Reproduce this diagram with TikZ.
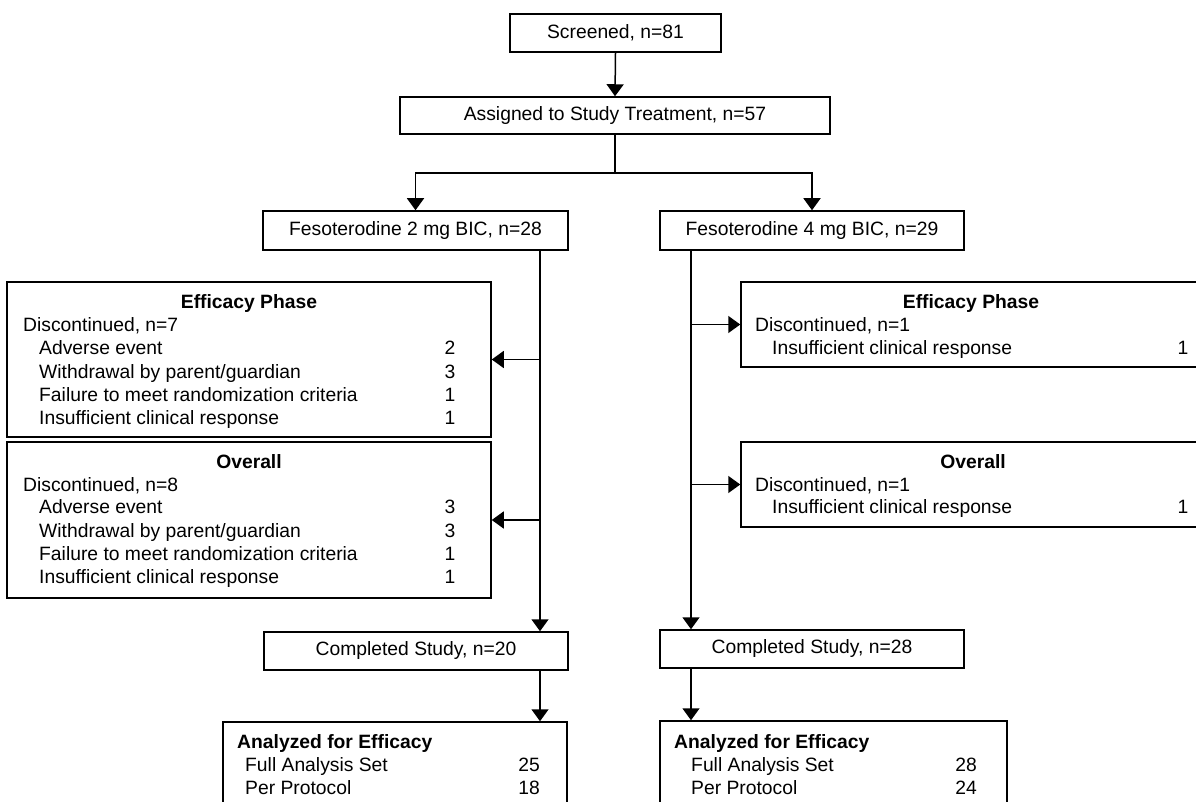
\documentclass[tikz,border=0pt]{standalone}
\usepackage{fontspec}
\setmainfont{Liberation Sans}
\usetikzlibrary{arrows.meta}
\tikzset{
  box/.style={draw, line width=1.5pt, inner sep=0pt, align=center},
  txt/.style={inner sep=0pt, text height=13.9pt, text depth=0pt, anchor=west},
  num/.style={inner sep=0pt, text height=13.9pt, text depth=0pt, anchor=center},
  hdr/.style={inner sep=0pt, text height=13.9pt, text depth=0pt, anchor=center, font=\fontsize{19.3}{23.3}\selectfont\bfseries},
  conn/.style={line width=1.5pt},
  arr/.style={line width=1.5pt, -{Triangle[length=12pt,width=17pt]}}
}
\begin{document}
\begin{tikzpicture}[x=1pt,y=-1pt, font=\fontsize{19.3}{23.3}\selectfont]
\useasboundingbox (0,0) rectangle (1196,802);
\fill[white] (0,0) rectangle (1196,802);
\clip (0,0) rectangle (1196,802);

% top boxes
\node[box, minimum width=211pt, minimum height=38pt] (scr) at (615.5,33) {Screened, n=81};
\node[box, minimum width=430pt, minimum height=37pt] (assign) at (615,115.5) {Assigned to Study Treatment, n=57};
\node[box, minimum width=305pt, minimum height=39pt] (feso2) at (415.5,230.5) {Fesoterodine 2 mg BIC, n=28};
\node[box, minimum width=304pt, minimum height=39pt] (feso4) at (812,230.5) {Fesoterodine 4 mg BIC, n=29};

% discontinuation boxes
\node[box, minimum width=484pt, minimum height=155pt] (effL) at (249,359.5) {};
\node[box, minimum width=484pt, minimum height=156pt] (ovL) at (249,520) {};
\node[box, minimum width=460pt, minimum height=85pt] (effR) at (971,324.5) {};
\node[box, minimum width=460pt, minimum height=85pt] (ovR) at (971,484.5) {};

% completed
\node[box, minimum width=304pt, minimum height=38pt] (compL) at (416,651) {Completed Study, n=20};
\node[box, minimum width=304pt, minimum height=38pt] (compR) at (812,649) {Completed Study, n=28};

% analyzed
\node[box, minimum width=344pt, minimum height=108pt] (anaL) at (395,776) {};
\node[box, minimum width=347pt, minimum height=109pt] (anaR) at (833.5,775.5) {};

% texts left efficacy
\node[hdr] (effLh) at (249,302) {Efficacy Phase};
\node[txt] (effL0) at (23,325) {Discontinued, n=7};
\node[txt] (effL1) at (39,348) {Adverse event};
\node[txt] (effL2) at (39,372) {Withdrawal by parent/guardian};
\node[txt] (effL3) at (39,395) {Failure to meet randomization criteria};
\node[txt] (effL4) at (39,418) {Insufficient clinical response};
\node[num] (effL1n) at (450,348) {2};
\node[num] (effL2n) at (450,372) {3};
\node[num] (effL3n) at (450,395) {1};
\node[num] (effL4n) at (450,418) {1};

% texts left overall
\node[hdr] (ovLh) at (249,462) {Overall};
\node[txt] (ovL0) at (23,485) {Discontinued, n=8};
\node[txt] (ovL1) at (39,507) {Adverse event};
\node[txt] (ovL2) at (39,531) {Withdrawal by parent/guardian};
\node[txt] (ovL3) at (39,554) {Failure to meet randomization criteria};
\node[txt] (ovL4) at (39,577) {Insufficient clinical response};
\node[num] (ovL1n) at (450,507) {3};
\node[num] (ovL2n) at (450,531) {3};
\node[num] (ovL3n) at (450,554) {1};
\node[num] (ovL4n) at (450,577) {1};

% texts right efficacy
\node[hdr] (effRh) at (971,302) {Efficacy Phase};
\node[txt] (effR0) at (755,325) {Discontinued, n=1};
\node[txt] (effR1) at (772,348) {Insufficient clinical response};
\node[num] (effR1n) at (1183,348) {1};

% texts right overall
\node[hdr] (ovRh) at (973,462) {Overall};
\node[txt] (ovR0) at (755,485) {Discontinued, n=1};
\node[txt] (ovR1) at (772,507) {Insufficient clinical response};
\node[num] (ovR1n) at (1183,507) {1};

% analyzed texts
\node[txt, font=\fontsize{19.3}{23.3}\selectfont\bfseries] (anaLh) at (237,742) {Analyzed for Efficacy};
\node[txt] (anaL1) at (245,765) {Full Analysis Set};
\node[txt] (anaL2) at (245,788) {Per Protocol};
\node[num] (anaL1n) at (529,765) {25};
\node[num] (anaL2n) at (529,788) {18};
\node[txt, font=\fontsize{19.3}{23.3}\selectfont\bfseries] (anaRh) at (674,742) {Analyzed for Efficacy};
\node[txt] (anaR1) at (691,765) {Full Analysis Set};
\node[txt] (anaR2) at (691,788) {Per Protocol};
\node[num] (anaR1n) at (966,765) {28};
\node[num] (anaR2n) at (966,788) {24};

% connectors
\coordinate (split) at (615,173);
\coordinate (trunkL) at (540,0);
\coordinate (trunkR) at (691,0);
\draw[arr] (scr.south) -- (assign.north);
\draw[conn] (assign.south) -- (split);
\draw[arr] (split) -| (feso2.north);
\draw[arr] (split) -| (feso4.north);
\draw[arr] (feso2.south -| trunkL) -- (compL.north -| trunkL);
\draw[arr] (feso4.south -| trunkR) -- (compR.north -| trunkR);
\draw[arr] (effL.east -| trunkL) -- (effL.east);
\draw[arr] (ovL.east -| trunkL) -- (ovL.east);
\draw[arr] (effR.west -| trunkR) -- (effR.west);
\draw[arr] (ovR.west -| trunkR) -- (ovR.west);
\draw[arr] (compL.south -| trunkL) -- (anaL.north -| trunkL);
\draw[arr] (compR.south -| trunkR) -- (anaR.north -| trunkR);
\end{tikzpicture}
\end{document}
